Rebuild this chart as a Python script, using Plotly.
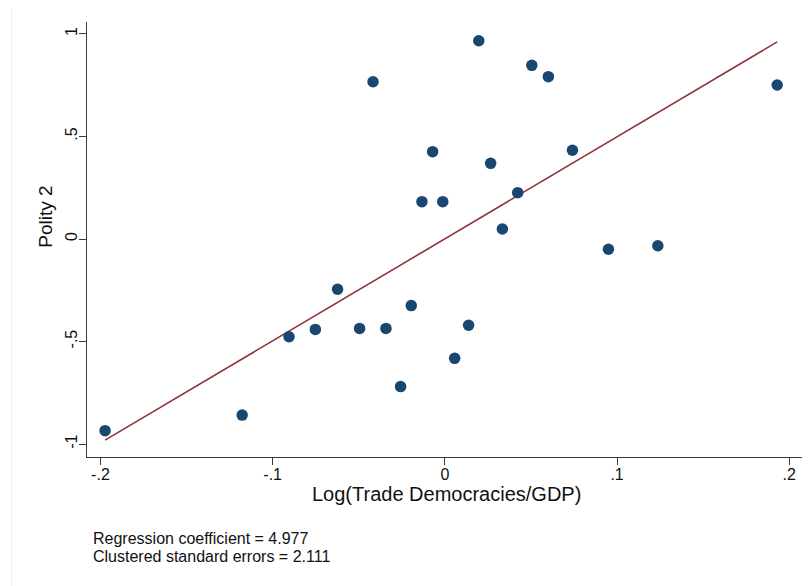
import numpy as np
import plotly.graph_objects as go

# Data
trade = [-0.1973, -0.1177, -0.0905, -0.0752, -0.0623, -0.0495, -0.0417, -0.0342,
         -0.0257, -0.0195, -0.0133, -0.0071, -0.0012, 0.0057, 0.0138, 0.0197,
         0.0266, 0.0334, 0.0423, 0.0505, 0.0601, 0.0741, 0.0950, 0.1237, 0.1930]
polity = [-0.935, -0.859, -0.477, -0.441, -0.245, -0.436, 0.767, -0.436,
          -0.720, -0.325, 0.182, 0.426, 0.182, -0.582, -0.421, 0.967,
          0.369, 0.049, 0.226, 0.847, 0.792, 0.433, -0.050, -0.033, 0.751]
coef = 4.977
se = 2.111
x_ticks = [-0.2, -0.1, 0, 0.1, 0.2]
x_tick_text = ["-.2", "-.1", "0", ".1", ".2"]
y_ticks = [-1, -0.5, 0, 0.5, 1]
y_tick_text = ["-1", "-.5", "0", ".5", "1"]

x = np.array(trade)
y = np.array(polity)
intercept = y.mean() - coef * x.mean()
fx = np.array([x.min(), x.max()])
fy = intercept + coef * fx

FONT = "Liberation Sans, Arial, Helvetica, sans-serif"
AX = "#3a3a3a"

# page body has an 8px margin: plot area target (screen px) x 87..801.7, y 22..457
OFF = 8
L, R, T, B = 87.3, 801.7, 22, 457
PW, PH = R - L, B - T

def px(xs):
    return (xs - L) / PW

def py(ys):
    return (B - ys) / PH

fig = go.Figure()
fig.add_trace(go.Scatter(x=fx, y=fy, mode="lines",
                         line=dict(color="#90353b", width=1.6),
                         hoverinfo="skip", showlegend=False))
fig.add_trace(go.Scatter(x=trade, y=polity, mode="markers",
                         marker=dict(color="#1a476f", size=11.5,
                                     line=dict(width=0)),
                         showlegend=False))

fig.update_layout(
    width=812, height=586,
    margin=dict(l=L - OFF, r=812 - (R - OFF), t=T - OFF, b=586 - (B - OFF)),
    paper_bgcolor="white", plot_bgcolor="white",
    font=dict(family=FONT, color="#111111"),
    xaxis=dict(range=[-0.2078, 0.2074], tickvals=x_ticks, ticktext=x_tick_text,
               automargin=False, ticklabelstandoff=-4,
               showgrid=False, zeroline=False, showline=True, linecolor=AX,
               linewidth=1.3, ticks="outside", ticklen=7, tickwidth=1.3,
               tickcolor=AX, tickfont=dict(size=16, family=FONT)),
    yaxis=dict(range=[-1.0634, 1.0585], tickvals=y_ticks, ticktext=y_tick_text,
               automargin=False, ticklabelstandoff=-5,
               showgrid=False, zeroline=False, showline=True, linecolor=AX,
               linewidth=1.3, ticks="outside", ticklen=7, tickwidth=1.3,
               tickcolor=AX, tickangle=-90, tickfont=dict(size=16, family=FONT)),
    annotations=[
        dict(text="Polity 2", xref="paper", yref="paper", x=px(45), y=py(217),
             textangle=-90, showarrow=False, xanchor="center", yanchor="middle",
             font=dict(size=19, family=FONT, color="#111111")),
        dict(text="Log(Trade Democracies/GDP)", xref="paper", yref="paper",
             x=px(446), y=py(494), showarrow=False,
             xanchor="center", yanchor="middle",
             font=dict(size=20, family=FONT, color="#111111")),
        dict(text=f"Regression coefficient = {coef:.3f}", xref="paper", yref="paper",
             x=px(91), y=py(538), showarrow=False, xanchor="left",
             yanchor="middle", font=dict(size=16, family=FONT, color="#111111")),
        dict(text=f"Clustered standard errors = {se:.3f}", xref="paper", yref="paper",
             x=px(91), y=py(556), showarrow=False, xanchor="left",
             yanchor="middle", font=dict(size=16, family=FONT, color="#111111")),
    ],
    shapes=[
        dict(type="line", xref="paper", yref="paper", x0=px(12), x1=px(12),
             y0=py(600), y1=py(0), line=dict(color="#eeeeee", width=1)),
    ],
)

fig.write_html("out.html")
